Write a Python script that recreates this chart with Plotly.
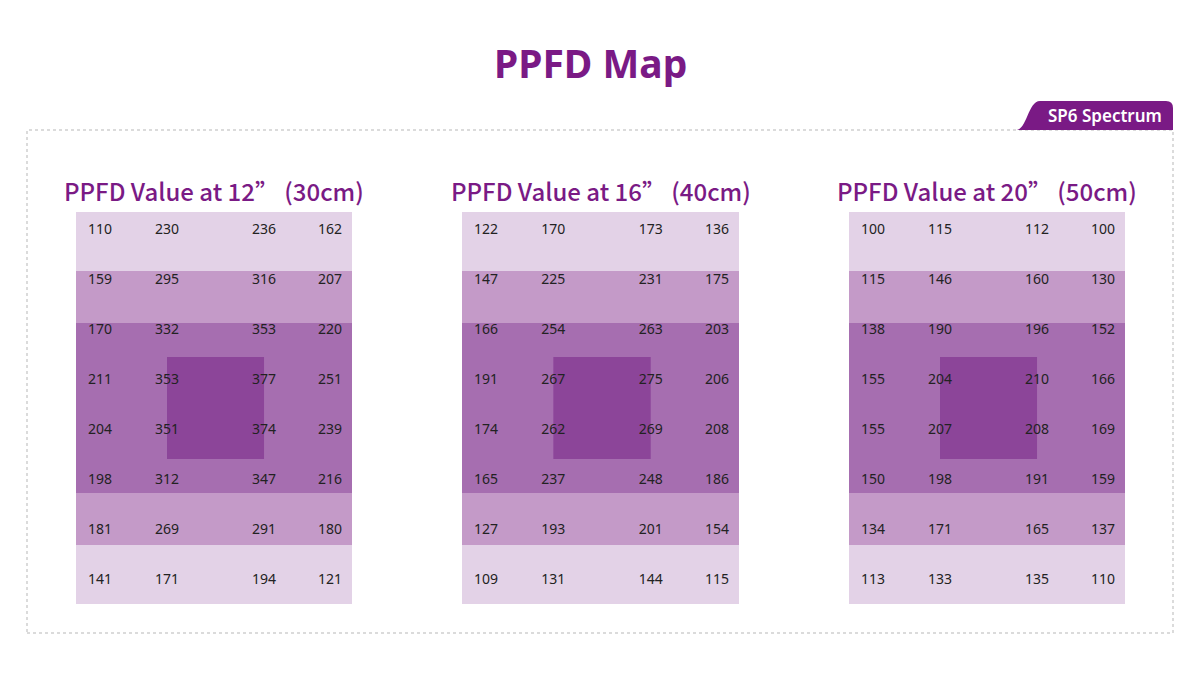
import plotly.graph_objects as go

# ---------------- data ----------------
panel_titles = ["PPFD Value at 12\u201d (30cm)",
                "PPFD Value at 16\u201d (40cm)",
                "PPFD Value at 20\u201d (50cm)"]

ppfd_12 = [[110, 230, 236, 162],
           [159, 295, 316, 207],
           [170, 332, 353, 220],
           [211, 353, 377, 251],
           [204, 351, 374, 239],
           [198, 312, 347, 216],
           [181, 269, 291, 180],
           [141, 171, 194, 121]]

ppfd_16 = [[122, 170, 173, 136],
           [147, 225, 231, 175],
           [166, 254, 263, 203],
           [191, 267, 275, 206],
           [174, 262, 269, 208],
           [165, 237, 248, 186],
           [127, 193, 201, 154],
           [109, 131, 144, 115]]

ppfd_20 = [[100, 115, 112, 100],
           [115, 146, 160, 130],
           [138, 190, 196, 152],
           [155, 204, 210, 166],
           [155, 207, 208, 169],
           [150, 198, 191, 159],
           [134, 171, 165, 137],
           [113, 133, 135, 110]]

panels = [ppfd_12, ppfd_16, ppfd_20]
title_text = "PPFD Map"
tab_text = "SP6 Spectrum"

# ---------------- layout constants ----------------
W, H = 1200, 678
OFF = 8  # page body margin
PURPLE = "#7a1a85"
C_LIGHT, C_MED, C_DARK, C_CENTER = "#e3d2e7", "#c49ac8", "#a66eb0", "#8c4599"

PANEL_X = [(76, 352), (462, 739), (849, 1125)]   # pixel extents
PANEL_Y = (212, 604)
COL_X = [0.348, 1.319, 2.725, 3.681]             # column text positions (x axis units, 0..4)
Y_RANGE = (-0.36, 7.48)                          # row axis (row index units)
BANDS = [(-0.36, 0.82, C_LIGHT), (0.82, 1.86, C_MED), (1.86, 5.26, C_DARK),
         (5.26, 6.30, C_MED), (6.30, 7.48, C_LIGHT)]
SQUARE_Y = (2.54, 4.58)


def px(x):
    return (x - OFF) / W


def py(y):
    return 1 - (y - OFF) / H


fig = go.Figure()
shapes = []
annotations = []

for i, vals in enumerate(panels):
    sfx = "" if i == 0 else str(i + 1)
    xa, ya = "x" + sfx, "y" + sfx
    xs, ys, ts = [], [], []
    for r, row in enumerate(vals):
        for c, v in enumerate(row):
            xs.append(COL_X[c])
            ys.append(r)
            ts.append(str(v))
    fig.add_trace(go.Scatter(
        x=xs, y=ys, text=ts, mode="text", xaxis=xa, yaxis=ya,
        textposition="middle center",
        textfont=dict(family="Noto Sans", size=14, color="#222222"),
        hoverinfo="skip", showlegend=False))

    x0p, x1p = PANEL_X[i]
    fig.update_layout(**{
        ("xaxis" + sfx): dict(domain=[px(x0p), px(x1p)], range=[0, 4], visible=False,
                              fixedrange=True),
        ("yaxis" + sfx): dict(domain=[py(PANEL_Y[1]), py(PANEL_Y[0])],
                              range=[Y_RANGE[1], Y_RANGE[0]], visible=False,
                              fixedrange=True),
    })
    for (b0, b1, col) in BANDS:
        shapes.append(dict(type="rect", xref=xa, yref=ya, x0=0, x1=4, y0=b0, y1=b1,
                           fillcolor=col, line=dict(width=0), layer="below"))
    shapes.append(dict(type="rect", xref=xa, yref=ya, x0=COL_X[1], x1=COL_X[2],
                       y0=SQUARE_Y[0], y1=SQUARE_Y[1], fillcolor=C_CENTER,
                       line=dict(width=0), layer="below"))
    annotations.append(dict(
        text=panel_titles[i], xref="paper", yref="paper",
        x=px((x0p + x1p) / 2), y=py(190), xanchor="center", yanchor="middle",
        showarrow=False,
        font=dict(family="Noto Sans CJK SC", size=24, color=PURPLE, weight=500)))

# dotted frame
shapes.append(dict(type="rect", xref="paper", yref="paper",
                   x0=px(27), x1=px(1173), y0=py(633), y1=py(130),
                   line=dict(color="#cfcfcf", width=1.5, dash="dot"),
                   fillcolor="rgba(0,0,0,0)", layer="below"))

# tab
pts = "M {a},{b} C {c},{b} {d},{e} {f},{e} L {g},{e} Q {h},{e} {h},{i} L {h},{b} Z".format(
    a=px(1016), b=py(130), c=px(1027), d=px(1028), e=py(101), f=px(1040),
    g=px(1166), h=px(1173), i=py(108))
shapes.append(dict(type="path", xref="paper", yref="paper", path=pts,
                   fillcolor=PURPLE, line=dict(width=0), layer="above"))
annotations.append(dict(text=tab_text, xref="paper", yref="paper",
                        x=px(1105), y=py(115), xanchor="center", yanchor="middle",
                        showarrow=False,
                        font=dict(family="Noto Sans", size=17, color="white", weight=600)))

annotations.append(dict(text="<b>" + title_text + "</b>", xref="paper", yref="paper",
                        x=px(590), y=py(63), xanchor="center", yanchor="middle",
                        showarrow=False,
                        font=dict(family="Noto Sans", size=39, color=PURPLE)))

fig.update_layout(width=W, height=H, margin=dict(l=0, r=0, t=0, b=0),
                  paper_bgcolor="white", plot_bgcolor="rgba(0,0,0,0)",
                  shapes=shapes, annotations=annotations, showlegend=False)

fig.write_html("out.html", config={"displayModeBar": False})
